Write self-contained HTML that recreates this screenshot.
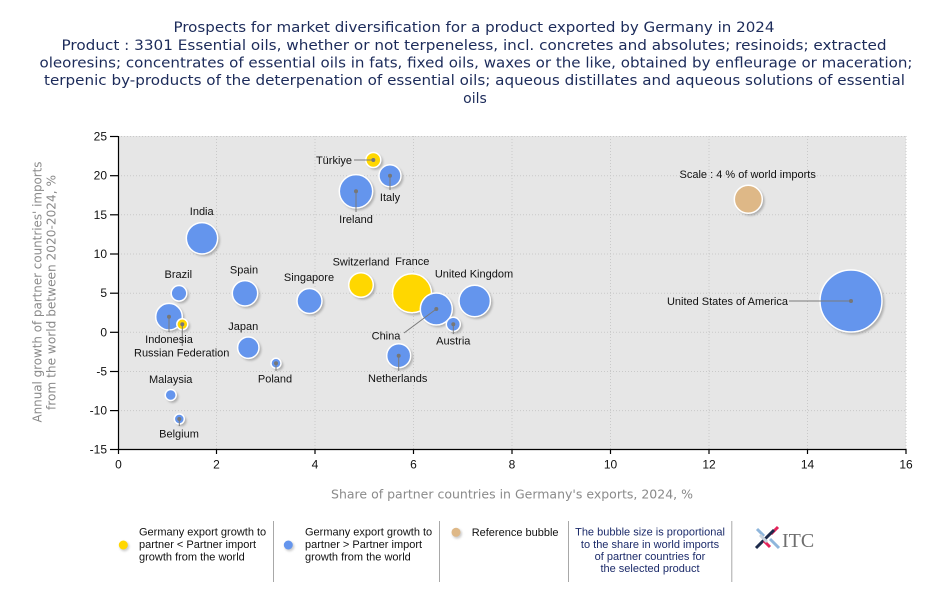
<!DOCTYPE html>
<html>
<head>
<meta charset="utf-8">
<style>
  html,body{margin:0;padding:0;background:#fff;}
  svg{display:block;}
  .t{font-family:"DejaVu Sans","Liberation Sans",sans-serif;font-size:14px;fill:#1c2b5a;}
  .lab{font-family:"Liberation Sans",sans-serif;font-size:11px;fill:#111;}
  .tick{font-family:"Liberation Sans",sans-serif;font-size:12px;fill:#111;}
  .ax{font-family:"DejaVu Sans","Liberation Sans",sans-serif;font-size:12px;fill:#8a8a8a;}
  .leg{font-family:"Liberation Sans",sans-serif;font-size:11px;fill:#111;}
  .leg4{font-family:"Liberation Sans",sans-serif;font-size:11px;fill:#1c2b6a;}
</style>
</head>
<body>
<svg width="950" height="600" viewBox="0 0 950 600" xmlns="http://www.w3.org/2000/svg">
  <defs>
    <filter id="sh" x="-50%" y="-50%" width="200%" height="200%">
      <feGaussianBlur stdDeviation="1"/>
    </filter>
  </defs>

  <!-- Title -->
  <text class="t" x="474" y="32" text-anchor="middle" textLength="601" lengthAdjust="spacingAndGlyphs">Prospects for market diversification for a product exported by Germany in 2024</text>
  <text class="t" x="474" y="50" text-anchor="middle" textLength="825" lengthAdjust="spacingAndGlyphs">Product : 3301 Essential oils, whether or not terpeneless, incl. concretes and absolutes; resinoids; extracted</text>
  <text class="t" x="476" y="67.5" text-anchor="middle" textLength="873" lengthAdjust="spacingAndGlyphs">oleoresins; concentrates of essential oils in fats, fixed oils, waxes or the like, obtained by enfleurage or maceration;</text>
  <text class="t" x="474.5" y="85" text-anchor="middle" textLength="861" lengthAdjust="spacingAndGlyphs">terpenic by-products of the deterpenation of essential oils; aqueous distillates and aqueous solutions of essential</text>
  <text class="t" x="475" y="103" text-anchor="middle">oils</text>

  <!-- Plot background -->
  <rect x="118" y="136" width="788" height="313.3" fill="#e6e6e6"/>

  <!-- Grid -->
  <g stroke="#c9c9c9" stroke-width="1" stroke-dasharray="1,2" fill="none">
    <line x1="118" y1="136.5" x2="906" y2="136.5"/>
    <line x1="118" y1="175.7" x2="906" y2="175.7"/>
    <line x1="118" y1="214.8" x2="906" y2="214.8"/>
    <line x1="118" y1="254" x2="906" y2="254"/>
    <line x1="118" y1="293.2" x2="906" y2="293.2"/>
    <line x1="118" y1="332.3" x2="906" y2="332.3"/>
    <line x1="118" y1="371.5" x2="906" y2="371.5"/>
    <line x1="118" y1="410.6" x2="906" y2="410.6"/>
    <line x1="216.5" y1="136" x2="216.5" y2="449"/>
    <line x1="315" y1="136" x2="315" y2="449"/>
    <line x1="413.5" y1="136" x2="413.5" y2="449"/>
    <line x1="512" y1="136" x2="512" y2="449"/>
    <line x1="610.5" y1="136" x2="610.5" y2="449"/>
    <line x1="709" y1="136" x2="709" y2="449"/>
    <line x1="807.5" y1="136" x2="807.5" y2="449"/>
    <line x1="906" y1="136" x2="906" y2="449"/>
  </g>

  <!-- Axes -->
  <g stroke="#000" stroke-width="1.2">
    <line x1="118.5" y1="136" x2="118.5" y2="449.5"/>
    <line x1="118" y1="449.5" x2="906.5" y2="449.5"/>
    <!-- y ticks -->
    <line x1="110" y1="136.5" x2="118" y2="136.5"/>
    <line x1="110" y1="175.7" x2="118" y2="175.7"/>
    <line x1="110" y1="214.8" x2="118" y2="214.8"/>
    <line x1="110" y1="254" x2="118" y2="254"/>
    <line x1="110" y1="293.2" x2="118" y2="293.2"/>
    <line x1="110" y1="332.3" x2="118" y2="332.3"/>
    <line x1="110" y1="371.5" x2="118" y2="371.5"/>
    <line x1="110" y1="410.6" x2="118" y2="410.6"/>
    <line x1="110" y1="449.5" x2="118" y2="449.5"/>
    <!-- x ticks -->
    <line x1="118.5" y1="449" x2="118.5" y2="454"/>
    <line x1="216.5" y1="449" x2="216.5" y2="454"/>
    <line x1="315" y1="449" x2="315" y2="454"/>
    <line x1="413.5" y1="449" x2="413.5" y2="454"/>
    <line x1="512" y1="449" x2="512" y2="454"/>
    <line x1="610.5" y1="449" x2="610.5" y2="454"/>
    <line x1="709" y1="449" x2="709" y2="454"/>
    <line x1="807.5" y1="449" x2="807.5" y2="454"/>
    <line x1="906" y1="449" x2="906" y2="454"/>
  </g>

  <!-- y tick labels -->
  <g class="tick" text-anchor="end">
    <text x="107" y="140.5">25</text>
    <text x="107" y="179.7">20</text>
    <text x="107" y="218.8">15</text>
    <text x="107" y="258">10</text>
    <text x="107" y="297.2">5</text>
    <text x="107" y="336.3">0</text>
    <text x="107" y="375.5">-5</text>
    <text x="107" y="414.6">-10</text>
    <text x="107" y="453.5">-15</text>
  </g>
  <!-- x tick labels -->
  <g class="tick" text-anchor="middle">
    <text x="118.5" y="468.5">0</text>
    <text x="216.5" y="468.5">2</text>
    <text x="315" y="468.5">4</text>
    <text x="413.5" y="468.5">6</text>
    <text x="512" y="468.5">8</text>
    <text x="610.5" y="468.5">10</text>
    <text x="709" y="468.5">12</text>
    <text x="807.5" y="468.5">14</text>
    <text x="906" y="468.5">16</text>
  </g>

  <!-- Axis titles -->
  <text class="ax" x="512" y="498.5" text-anchor="middle" textLength="362" lengthAdjust="spacingAndGlyphs">Share of partner countries in Germany's exports, 2024, %</text>
  <text class="ax" transform="translate(41.5,292) rotate(-90)" x="0" y="0" text-anchor="middle" textLength="261" lengthAdjust="spacingAndGlyphs">Annual growth of partner countries' imports</text>
  <text class="ax" transform="translate(55.5,292.5) rotate(-90)" x="0" y="0" text-anchor="middle" textLength="235" lengthAdjust="spacingAndGlyphs">from the world between 2020-2024, %</text>

  <!-- Bubbles: shadow then circle -->
  <g>
    <!-- USA -->
    <circle cx="853" cy="303" r="31.5" fill="#8a8a8a" opacity="0.6" filter="url(#sh)"/>
    <circle cx="851" cy="301" r="31" fill="#6495ed" stroke="#fff" stroke-width="1.5"/>
    <!-- France -->
    <circle cx="414" cy="295.3" r="20" fill="#8a8a8a" opacity="0.6" filter="url(#sh)"/>
    <circle cx="412" cy="293.3" r="19.5" fill="#ffd700" stroke="#fff" stroke-width="1.5"/>
    <!-- Ireland -->
    <circle cx="358" cy="193.3" r="17" fill="#8a8a8a" opacity="0.6" filter="url(#sh)"/>
    <circle cx="356" cy="191.3" r="16.7" fill="#6495ed" stroke="#fff" stroke-width="1.5"/>
    <!-- India -->
    <circle cx="204" cy="240.3" r="16" fill="#8a8a8a" opacity="0.6" filter="url(#sh)"/>
    <circle cx="202" cy="238.3" r="15.7" fill="#6495ed" stroke="#fff" stroke-width="1.5"/>
    <!-- UK -->
    <circle cx="476.7" cy="303" r="16" fill="#8a8a8a" opacity="0.6" filter="url(#sh)"/>
    <circle cx="474.7" cy="301" r="15.7" fill="#6495ed" stroke="#fff" stroke-width="1.5"/>
    <!-- China -->
    <circle cx="438.3" cy="311" r="16.3" fill="#8a8a8a" opacity="0.6" filter="url(#sh)"/>
    <circle cx="436.3" cy="309" r="16" fill="#6495ed" stroke="#fff" stroke-width="1.5"/>
    <!-- Reference -->
    <circle cx="750.3" cy="201.3" r="14.3" fill="#8a8a8a" opacity="0.6" filter="url(#sh)"/>
    <circle cx="748.3" cy="199.3" r="14" fill="#deb887" stroke="#fff" stroke-width="1.5"/>
    <!-- Indonesia -->
    <circle cx="171" cy="318.7" r="13.6" fill="#8a8a8a" opacity="0.6" filter="url(#sh)"/>
    <circle cx="169" cy="316.7" r="13.3" fill="#6495ed" stroke="#fff" stroke-width="1.5"/>
    <!-- Spain -->
    <circle cx="247" cy="295.3" r="13" fill="#8a8a8a" opacity="0.6" filter="url(#sh)"/>
    <circle cx="245" cy="293.3" r="12.7" fill="#6495ed" stroke="#fff" stroke-width="1.5"/>
    <!-- Singapore -->
    <circle cx="311.5" cy="303" r="12.8" fill="#8a8a8a" opacity="0.6" filter="url(#sh)"/>
    <circle cx="309.5" cy="301" r="12.5" fill="#6495ed" stroke="#fff" stroke-width="1.5"/>
    <!-- Switzerland -->
    <circle cx="363" cy="287" r="12.6" fill="#8a8a8a" opacity="0.6" filter="url(#sh)"/>
    <circle cx="361" cy="285" r="12.3" fill="#ffd700" stroke="#fff" stroke-width="1.5"/>
    <!-- Netherlands -->
    <circle cx="400.7" cy="357.7" r="12.3" fill="#8a8a8a" opacity="0.6" filter="url(#sh)"/>
    <circle cx="398.7" cy="355.7" r="12" fill="#6495ed" stroke="#fff" stroke-width="1.5"/>
    <!-- Italy -->
    <circle cx="392" cy="177.7" r="11.3" fill="#8a8a8a" opacity="0.6" filter="url(#sh)"/>
    <circle cx="390" cy="175.7" r="11" fill="#6495ed" stroke="#fff" stroke-width="1.5"/>
    <!-- Japan -->
    <circle cx="250.3" cy="349.7" r="11" fill="#8a8a8a" opacity="0.6" filter="url(#sh)"/>
    <circle cx="248.3" cy="347.7" r="10.7" fill="#6495ed" stroke="#fff" stroke-width="1.5"/>
    <!-- Brazil -->
    <circle cx="181" cy="295.3" r="8.1" fill="#8a8a8a" opacity="0.6" filter="url(#sh)"/>
    <circle cx="179" cy="293.3" r="7.8" fill="#6495ed" stroke="#fff" stroke-width="1.5"/>
    <!-- Turkiye -->
    <circle cx="375.3" cy="162" r="7.8" fill="#8a8a8a" opacity="0.6" filter="url(#sh)"/>
    <circle cx="373.3" cy="160" r="7.5" fill="#ffd700" stroke="#fff" stroke-width="1.5"/>
    <!-- Austria -->
    <circle cx="455.3" cy="326.3" r="7.3" fill="#8a8a8a" opacity="0.6" filter="url(#sh)"/>
    <circle cx="453.3" cy="324.3" r="7" fill="#6495ed" stroke="#fff" stroke-width="1.5"/>
    <!-- Russian Federation -->
    <circle cx="184.3" cy="326.3" r="5.8" fill="#8a8a8a" opacity="0.6" filter="url(#sh)"/>
    <circle cx="182.3" cy="324.3" r="5.5" fill="#ffd700" stroke="#fff" stroke-width="1.5"/>
    <!-- Malaysia -->
    <circle cx="172.7" cy="397" r="5.8" fill="#8a8a8a" opacity="0.6" filter="url(#sh)"/>
    <circle cx="170.7" cy="395" r="5.5" fill="#6495ed" stroke="#fff" stroke-width="1.5"/>
    <!-- Poland -->
    <circle cx="278" cy="365.3" r="5.3" fill="#8a8a8a" opacity="0.6" filter="url(#sh)"/>
    <circle cx="276" cy="363.3" r="5" fill="#6495ed" stroke="#fff" stroke-width="1.5"/>
    <!-- Belgium -->
    <circle cx="181.3" cy="421" r="5.3" fill="#8a8a8a" opacity="0.6" filter="url(#sh)"/>
    <circle cx="179.3" cy="419" r="5" fill="#6495ed" stroke="#fff" stroke-width="1.5"/>
  </g>

  <!-- Leader lines -->
  <g stroke="#7a7a7a" stroke-width="1">
    <line x1="354" y1="160" x2="373.3" y2="160"/>
    <line x1="390" y1="175.7" x2="390" y2="190"/>
    <line x1="356" y1="191.3" x2="356" y2="212"/>
    <line x1="404" y1="333" x2="436.3" y2="309"/>
    <line x1="453.3" y1="324.3" x2="453.3" y2="334"/>
    <line x1="398.7" y1="355.7" x2="398.7" y2="371"/>
    <line x1="789" y1="301" x2="851" y2="301"/>
    <line x1="169" y1="316.7" x2="169" y2="332"/>
    <line x1="182.3" y1="324.3" x2="182.3" y2="346"/>
    <line x1="276" y1="363.3" x2="276" y2="371"/>
    <line x1="179.3" y1="419" x2="179.3" y2="426"/>
  </g>
  <g fill="#777">
    <circle cx="373.3" cy="160" r="2"/>
    <circle cx="390" cy="175.7" r="2"/>
    <circle cx="356" cy="191.3" r="2"/>
    <circle cx="436.3" cy="309" r="2"/>
    <circle cx="453.3" cy="324.3" r="2"/>
    <circle cx="398.7" cy="355.7" r="2"/>
    <circle cx="851" cy="301" r="2"/>
    <circle cx="169" cy="316.7" r="2"/>
    <circle cx="182.3" cy="324.3" r="2"/>
    <circle cx="276" cy="363.3" r="2"/>
    <circle cx="179.3" cy="419" r="2"/>
  </g>

  <!-- Labels -->
  <g class="lab" text-anchor="middle">
    <text x="352" y="164" text-anchor="end">Türkiye</text>
    <text x="390" y="201">Italy</text>
    <text x="356" y="223">Ireland</text>
    <text x="361" y="265.7">Switzerland</text>
    <text x="412.3" y="265">France</text>
    <text x="474" y="277.3">United Kingdom</text>
    <text x="386" y="339.7">China</text>
    <text x="453.3" y="344.7">Austria</text>
    <text x="397.7" y="382">Netherlands</text>
    <text x="309" y="281">Singapore</text>
    <text x="201.7" y="215">India</text>
    <text x="178.3" y="278">Brazil</text>
    <text x="244" y="273.3">Spain</text>
    <text x="169" y="343">Indonesia</text>
    <text x="181.7" y="356.7">Russian Federation</text>
    <text x="243.3" y="330">Japan</text>
    <text x="275" y="382.3">Poland</text>
    <text x="170.7" y="383">Malaysia</text>
    <text x="179" y="437.3">Belgium</text>
    <text x="788" y="305" text-anchor="end">United States of America</text>
    <text x="747.7" y="178">Scale : 4 % of world imports</text>
  </g>

  <!-- Legend -->
  <circle cx="124.5" cy="546.5" r="4.8" fill="#aaa" opacity="0.6" filter="url(#sh)"/>
  <circle cx="123.3" cy="545" r="4.5" fill="#ffd700"/>
  <text class="leg" x="139" y="535.7">Germany export growth to</text>
  <text class="leg" x="139" y="548">partner &lt; Partner import</text>
  <text class="leg" x="139" y="560.5">growth from the world</text>
  <line x1="273.5" y1="521" x2="273.5" y2="582" stroke="#a8a8a8" stroke-width="1"/>

  <circle cx="289.5" cy="546.5" r="4.8" fill="#aaa" opacity="0.6" filter="url(#sh)"/>
  <circle cx="288.3" cy="545" r="4.5" fill="#6495ed"/>
  <text class="leg" x="305" y="535.7">Germany export growth to</text>
  <text class="leg" x="305" y="548">partner &gt; Partner import</text>
  <text class="leg" x="305" y="560.5">growth from the world</text>
  <line x1="439.5" y1="521" x2="439.5" y2="582" stroke="#a8a8a8" stroke-width="1"/>

  <circle cx="457.2" cy="533.8" r="4.8" fill="#aaa" opacity="0.6" filter="url(#sh)"/>
  <circle cx="456" cy="532.3" r="4.5" fill="#deb887"/>
  <text class="leg" x="471.7" y="536">Reference bubble</text>
  <line x1="568.5" y1="521" x2="568.5" y2="582" stroke="#a8a8a8" stroke-width="1"/>

  <g class="leg4" text-anchor="middle">
    <text x="650" y="535.5">The bubble size is proportional</text>
    <text x="650" y="547.8">to the share in world imports</text>
    <text x="650" y="560">of partner countries for</text>
    <text x="650" y="572">the selected product</text>
  </g>
  <line x1="731.8" y1="521" x2="731.8" y2="582" stroke="#a8a8a8" stroke-width="1"/>

  <!-- ITC logo -->
  <g stroke-width="3" stroke-linecap="butt">
    <line x1="757" y1="529" x2="764" y2="536" stroke="#8fb6dc"/>
    <line x1="771" y1="534" x2="778" y2="527" stroke="#e3245a"/>
    <line x1="756" y1="548" x2="774" y2="530" stroke="#1d2b4c"/>
    <line x1="764" y1="541" x2="770" y2="547" stroke="#e3245a"/>
    <line x1="770" y1="539" x2="779" y2="548" stroke="#8fb6dc"/>
    <line x1="760" y1="535" x2="767" y2="542" stroke="#c9d3de"/>
  </g>
  <text x="782" y="547" font-family="Liberation Serif, serif" font-size="20" fill="#6e6e6e">ITC</text>
</svg>
</body>
</html>
